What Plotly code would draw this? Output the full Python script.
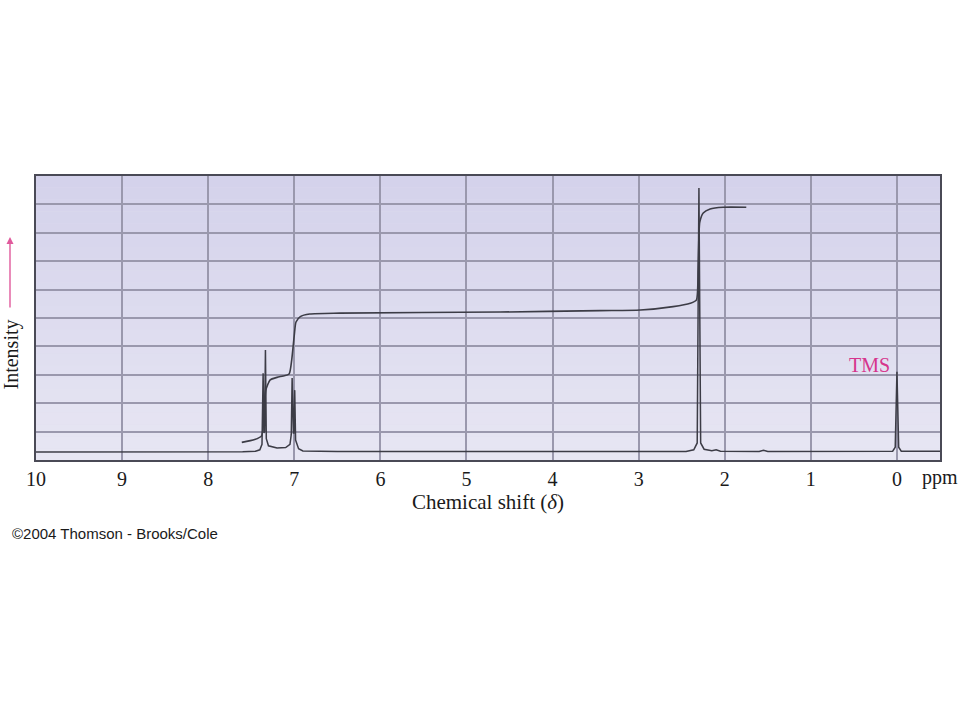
import plotly.graph_objects as go

# ---------------- data ----------------
# 1H NMR spectrum: chemical shift (ppm) vs intensity (grid units)
spec_ppm = [10.0, 8.0, 7.60, 7.45, 7.40, 7.375, 7.362, 7.352, 7.345, 7.335, 7.325,
            7.30, 7.20, 7.10, 7.05, 7.035, 7.025, 7.01, 7.005, 6.995, 6.985,
            6.95, 6.90, 6.50, 4.00, 2.45, 2.36, 2.32, 2.30, 2.28, 2.24,
            2.15, 2.10, 2.05, 1.60, 1.55, 1.50, 0.05, 0.02, 0.0, -0.02, -0.05, -0.5]
spec_int = [0.28, 0.28, 0.29, 0.31, 0.36, 0.55, 3.05, 0.95, 1.0, 3.87, 0.75,
            0.50, 0.42, 0.44, 0.55, 0.9, 2.89, 0.95, 0.95, 2.46, 0.70,
            0.40, 0.32, 0.30, 0.30, 0.30, 0.36, 0.60, 9.58, 0.60, 0.38,
            0.33, 0.36, 0.31, 0.30, 0.34, 0.30, 0.31, 0.45, 3.11, 0.45, 0.31, 0.31]

# integral trace
integ_ppm = [7.61, 7.46, 7.38, 7.35, 7.33, 7.28, 7.20, 7.13, 7.06, 7.03, 7.00, 6.98,
             6.93, 6.82, 6.47, 4.61, 3.45, 2.98, 2.60, 2.40, 2.33, 2.31, 2.30,
             2.29, 2.25, 2.17, 2.02, 1.75]
integ_val = [0.62, 0.72, 0.85, 1.58, 2.46, 2.82, 2.91, 2.96, 3.03, 3.52, 4.40, 4.86,
             5.05, 5.14, 5.17, 5.21, 5.26, 5.28, 5.40, 5.52, 5.63, 6.69, 7.92,
             8.38, 8.70, 8.84, 8.90, 8.90]

x_ticks = [10, 9, 8, 7, 6, 5, 4, 3, 2, 1, 0]
x_tick_labels = ["10", "9", "8", "7", "6", "5", "4", "3", "2", "1", "0"]
y_grid = [1, 2, 3, 4, 5, 6, 7, 8, 9]

tms_label = "TMS"
tms_ppm = 0.06
tms_level = 3.35

# ---------------- figure ----------------
W, H = 960, 720
L, R, T, B = 36, 20, 176, 260
pw, ph = W - L - R, H - T - B

line_col = "#3c3c46"
fig = go.Figure()
fig.add_trace(go.Scatter(x=spec_ppm, y=spec_int, mode="lines",
                         line=dict(color=line_col, width=1.5), hoverinfo="skip"))
fig.add_trace(go.Scatter(x=integ_ppm, y=integ_val, mode="lines",
                         line=dict(color=line_col, width=1.6, shape="spline", smoothing=0.6),
                         hoverinfo="skip"))

# background gradient (top darker lavender -> lighter at bottom)
top = (212, 210, 235)
bot = (231, 230, 243)
nb = 24
shapes = []
for i in range(nb):
    f = i / (nb - 1)
    c = tuple(round(top[k] + (bot[k] - top[k]) * f) for k in range(3))
    shapes.append(dict(type="rect", xref="paper", yref="paper",
                       x0=0, x1=1, y0=1 - (i + 1) / nb, y1=1 - i / nb,
                       fillcolor="rgb(%d,%d,%d)" % c, line=dict(width=0), layer="below"))

serif = "Liberation Serif, Times New Roman, serif"
pink = "#d6348c"
txt = "#1a1a1a"

ann = [
    dict(text=tms_label, x=tms_ppm, y=tms_level, xref="x", yref="y",
         xanchor="right", yanchor="middle", showarrow=False,
         font=dict(family=serif, size=20, color=pink)),
    dict(text="ppm", x=-0.5, y=-17 / ph, xref="x", yref="paper",
         xanchor="center", yanchor="middle", showarrow=False,
         font=dict(family=serif, size=20, color=txt)),
    dict(text="Intensity", x=(10.5 - L) / pw, y=(T + ph - 355) / ph, xref="paper", yref="paper",
         xanchor="center", yanchor="middle", showarrow=False, textangle=-90, borderpad=0,
         font=dict(family=serif, size=20, color=txt)),
    dict(text="", x=(10 - L) / pw, y=(T + ph - 237) / ph, xref="paper", yref="paper",
         showarrow=True, ax=0, ay=72, arrowhead=2, arrowsize=1, arrowwidth=1.4,
         arrowcolor="#e05a9c"),
    dict(text="©2004 Thomson - Brooks/Cole", x=(10 - L) / pw, y=(T + ph - 533) / ph,
         xref="paper", yref="paper", xanchor="left", yanchor="middle", showarrow=False,
         font=dict(family="Liberation Sans, Arial, sans-serif", size=15, color=txt)),
]

fig.update_layout(
    width=W, height=H,
    margin=dict(l=L, r=R, t=T, b=B),
    paper_bgcolor="white",
    plot_bgcolor="rgb(222,221,239)",
    showlegend=False,
    shapes=shapes,
    annotations=ann,
    xaxis=dict(range=[10, -0.5], tickvals=x_ticks, ticktext=x_tick_labels,
               showgrid=True, gridcolor="#9a98ad", gridwidth=1.5,
               showline=True, linecolor="#4a4a56", linewidth=1.6, mirror=True,
               ticks="", zeroline=False,
               tickfont=dict(family=serif, size=20, color=txt),
               title=dict(text="Chemical shift (<i>δ</i>)", standoff=4,
                          font=dict(family=serif, size=21, color=txt))),
    yaxis=dict(range=[0, 10], tickvals=y_grid, showticklabels=False,
               showgrid=True, gridcolor="#9a98ad", gridwidth=1.5,
               showline=True, linecolor="#4a4a56", linewidth=1.6, mirror=True,
               ticks="", zeroline=False),
)

fig.write_html("out.html", config={"displayModeBar": False},
               post_script="document.body.style.margin='0';")
